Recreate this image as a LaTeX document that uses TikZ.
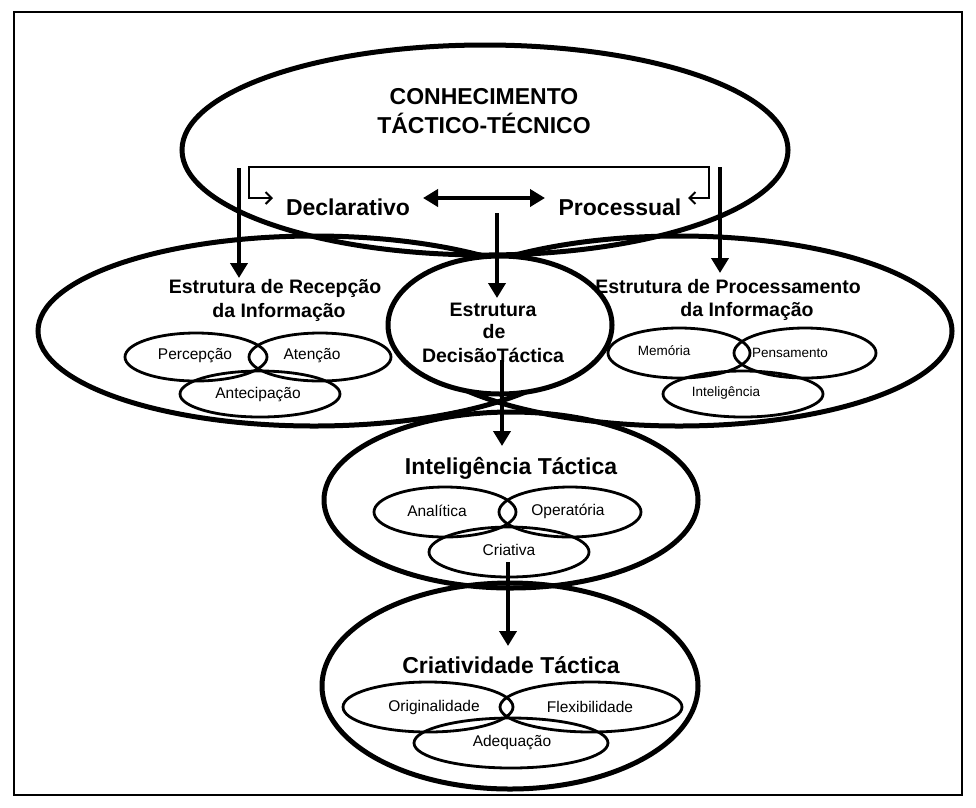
\documentclass[tikz,border=0pt]{standalone}
\usepackage{fontspec}
\setmainfont{Liberation Sans}
\usetikzlibrary{arrows.meta}
\begin{document}
\begin{tikzpicture}[x=1pt,y=-1pt,
  bigline/.style={line width=5pt},
  small/.style={draw,line width=2.8pt},
  arr/.style={line width=4.5pt,-{Triangle[length=15pt,width=17pt]}},
  lab/.style={font=\fontsize{15.5}{17}\selectfont},
  slab/.style={font=\fontsize{13.5}{15}\selectfont},
  head/.style={font=\bfseries\fontsize{19.5}{23}\selectfont},
  title/.style={font=\bfseries\fontsize{23}{26}\selectfont},
]
\useasboundingbox (0,0) rectangle (976,807);
\draw[line width=1.5pt] (14,12) rectangle (962,795);
% big ellipses
\draw[bigline] (485,150) ellipse [x radius=303,y radius=105];
\draw[bigline] (314,331) ellipse [x radius=276,y radius=95];
\draw[bigline] (679,331) ellipse [x radius=273,y radius=95];
\draw[bigline,fill=white] (500,325) ellipse [x radius=112,y radius=69];
\draw[bigline] (511,500) ellipse [x radius=187,y radius=88];
\draw[bigline] (510,686) ellipse [x radius=188,y radius=103];
% small ellipses
\draw[small] (196,357) ellipse [x radius=71,y radius=24];
\draw[small] (320,357) ellipse [x radius=71,y radius=24];
\draw[small] (260,394) ellipse [x radius=80,y radius=23];
\draw[small] (679,353) ellipse [x radius=71,y radius=25];
\draw[small] (805,353) ellipse [x radius=71,y radius=25];
\draw[small] (743,394) ellipse [x radius=80,y radius=23];
\draw[small] (445,512) ellipse [x radius=71,y radius=25];
\draw[small] (570,512) ellipse [x radius=71,y radius=25];
\draw[small] (509,552) ellipse [x radius=80,y radius=25];
\draw[small] (428,707) ellipse [x radius=85,y radius=25];
\draw[small] (591,707) ellipse [x radius=91,y radius=25];
\draw[small] (511,743) ellipse [x radius=97,y radius=25];
% texts
\node[title] (ck1) at (484,97) {CONHECIMENTO};
\node[title] (ck2) at (484,123) {TÁCTICO-TÉCNICO};
\node[title] (dec) at (348,207) {Declarativo};
\node[title] (proc) at (620,207) {Processual};
\node[head] (rec1) at (275,288) {Estrutura de Recepção};
\node[head] (rec2) at (279,312) {da Informação};
\node[head] (pro1) at (728,287) {Estrutura de Processamento};
\node[head] (pro2) at (747,311) {da Informação};
\node[head] (dt1) at (493,310) {Estrutura};
\node[head] (dt2) at (494,332) {de};
\node[head] (dt3) at (493,355) {DecisãoTáctica};
\node[title] (it) at (511,468) {Inteligência Táctica};
\node[title] (ct) at (511,665) {Criatividade Táctica};
\node[lab] (p1) at (195,356) {Percepção};
\node[lab] (p2) at (312,356) {Atenção};
\node[lab] (p3) at (258,395) {Antecipação};
\node[slab] (m1) at (664,351) {Memória};
\node[slab] (m2) at (790,353) {Pensamento};
\node[slab] (m3) at (726,393) {Inteligência};
\node[lab] (a1) at (437,511) {Analítica};
\node[lab] (a2) at (568,511) {Operatória};
\node[lab] (a3) at (509,550) {Criativa};
\node[lab] (o1) at (434,707) {Originalidade};
\node[lab] (o2) at (590,707) {Flexibilidade};
\node[lab] (o3) at (512,743) {Adequação};
% arrows
\coordinate (l0) at (239,168); \coordinate (l1) at (239,278);
\coordinate (r0) at (720,167); \coordinate (r1) at (720,273);
\coordinate (m0) at (497,213); \coordinate (m1e) at (497,298);
\coordinate (d0) at (502,360); \coordinate (d1) at (502,446);
\coordinate (c0) at (508,562); \coordinate (c1) at (508,646);
\draw[arr] (l0) -- (l1);
\draw[arr] (r0) -- (r1);
\draw[arr] (m0) -- (m1e);
\draw[arr] (d0) -- (d1);
\draw[arr] (c0) -- (c1);
\coordinate (da) at (423,198); \coordinate (db) at (545,198);
\draw[line width=4.5pt,{Triangle[length=15pt,width=17pt]}-{Triangle[length=15pt,width=17pt]}] (da) -- (db);
% bracket
\coordinate (b0) at (273,198); \coordinate (b1) at (688,198);
\draw[line width=2pt,{Straight Barb[length=6pt,width=12pt]}-{Straight Barb[length=6pt,width=12pt]}] (b0) -- (249,198) -- (249,167) -- (709,167) -- (709,198) -- (b1);
\end{tikzpicture}
\end{document}
